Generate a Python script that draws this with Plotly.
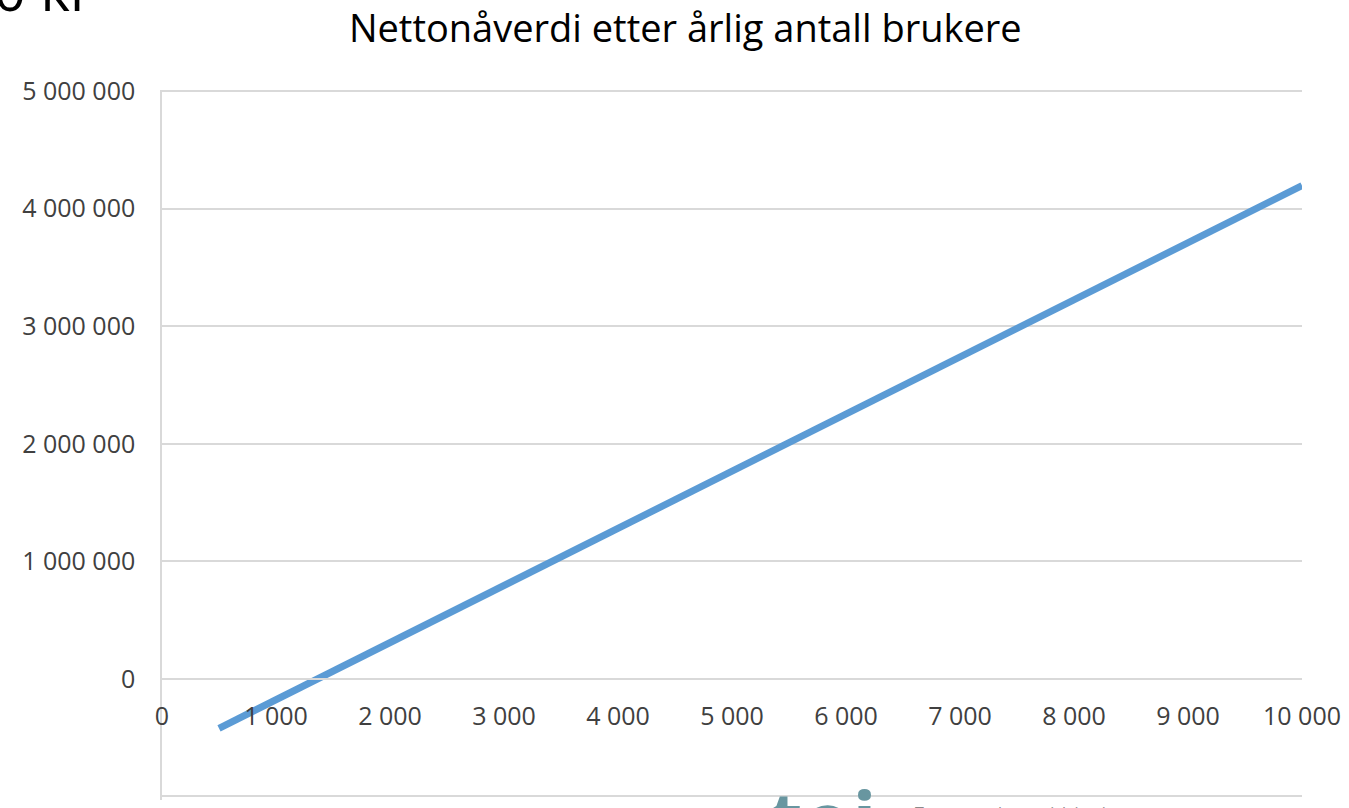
import plotly.graph_objects as go

# Data
brukere = [500, 1000, 2000, 3000, 4000, 5000, 6000, 7000, 8000, 9000, 10000]
nettonaaverdi = [-420000, -177000, 309000, 795000, 1281000, 1767000,
                 2253000, 2739000, 3225000, 3711000, 4197000]

title_text = "Nettonåverdi etter årlig antall brukere"
x_ticks = [0, 1000, 2000, 3000, 4000, 5000, 6000, 7000, 8000, 9000, 10000]
y_ticks = [-1000000, 0, 1000000, 2000000, 3000000, 4000000, 5000000]
y_lo, y_hi = -1030000, 5010000

FONT = "Open Sans"
GRID = "#d9d9d9"
TICK = "#404040"

fig = go.Figure()
fig.add_trace(go.Scatter(
    x=brukere, y=nettonaaverdi, mode="lines",
    line=dict(color="#5b9bd5", width=7),
    hoverinfo="x+y", showlegend=False,
))

fig.update_layout(
    width=1349, height=808,
    margin=dict(l=162, r=44, t=90, b=8),
    paper_bgcolor="white", plot_bgcolor="white",
    separators=", ",
    font=dict(family=FONT, color=TICK, size=25),
    title=dict(text=title_text, x=0.508, xanchor="center", y=0.965, yanchor="middle",
               font=dict(family=FONT, size=38, color="#000000")),
    xaxis=dict(
        range=[0, 10000], tickvals=x_ticks, tickformat=",d",
        anchor="free", position=(0 - y_lo) / (y_hi - y_lo),
        showgrid=False, zeroline=False,
        showline=True, linecolor=GRID, linewidth=1.5,
        ticks="", ticklabelstandoff=15, ticklabeloverflow="allow",
        tickfont=dict(family=FONT, size=25, color=TICK),
    ),
    yaxis=dict(
        range=[y_lo, y_hi], tickvals=y_ticks, tickformat=",d",
        showgrid=True, gridcolor=GRID, gridwidth=1.5,
        zeroline=False, showline=True, linecolor=GRID, linewidth=1.5,
        ticks="", ticklabelstandoff=20,
        tickfont=dict(family=FONT, size=25, color=TICK),
    ),
)

# Fragments of the surrounding slide visible at the edges
fig.add_annotation(text="0 kr", xref="paper", yref="paper", x=-0.149, y=1.086,
                   xanchor="left", yanchor="bottom", showarrow=False,
                   font=dict(family=FONT, size=56, color="#000000"))
fig.add_annotation(text="<b>toi</b>", xref="paper", yref="paper", x=0.53, y=0.053,
                   xanchor="left", yanchor="top", showarrow=False,
                   font=dict(family=FONT, size=80, color="#6896a0"))
fig.add_annotation(text="Transportøkonomisk institutt", xref="paper", yref="paper",
                   x=0.659, y=0.0, xanchor="left", yanchor="top", showarrow=False,
                   font=dict(family=FONT, size=16, color="#8a8a8a"))

fig.write_html("out.html", config={"displayModeBar": False},
               post_script="document.body.style.margin='0';")
